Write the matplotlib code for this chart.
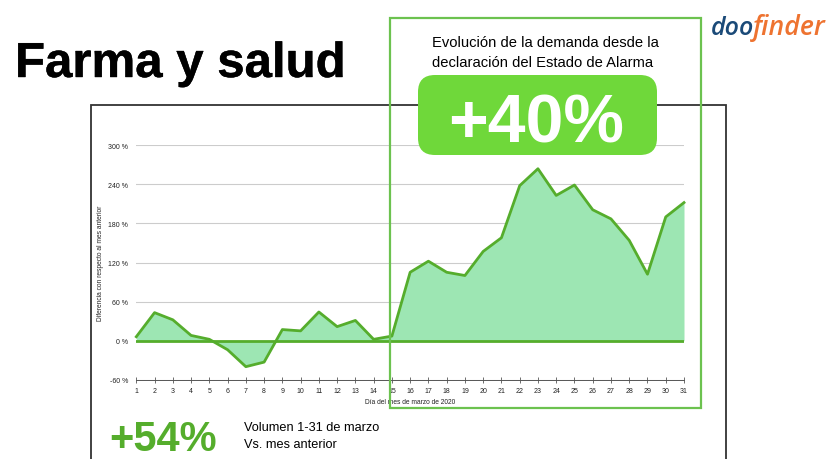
#Farma y salud - demand change vs previous month, March 2020

import matplotlib
matplotlib.use("Agg")
import matplotlib.pyplot as plt
import matplotlib.patheffects as pe
from matplotlib.patches import Rectangle, FancyBboxPatch

#
# Data
#

days = list(range(1, 32))
diffPercent = [6, 43, 32, 8, 2, -14, -40, -33, 17, 15, 44, 21.5, 31, 2, 7,
               105, 122, 105, 100, 137, 158, 238, 264, 223, 239, 201, 187, 154, 102, 190, 212]
yTicks = [-60, 0, 60, 120, 180, 240, 300]
yTickLabels = ["-60 %", "0 %", "60 %", "120 %", "180 %", "240 %", "300 %"]

#
# Style
#

W, H = 840., 460.
lineGreen = "#55ad2c"
fillGreen = "#9de6b3"
boxGreen = "#6cc24f"
badgeGreen = "#6fd83a"
plt.rcParams["font.family"] = ["Liberation Sans", "DejaVu Sans"]

fig = plt.figure(figsize=(8.4, 4.6), dpi=100)

#
# Page overlay in pixel coordinates, frame sits behind the chart
#

back = fig.add_axes([0, 0, 1, 1], zorder=0)
back.set_xlim(0, W)
back.set_ylim(H, 0)
back.axis("off")
back.plot([91, 91, 726, 726], [H, 106, 106, H], color="#333333", lw=1.3, solid_joinstyle="miter")

#
# Chart
#

ax = fig.add_axes([136.3/W, 1-380.7/H, (684-136.3)/W, (380.7-146.3)/H], zorder=1)
ax.patch.set_alpha(0)
ax.set_xlim(1, 31)
ax.set_ylim(-60, 300)
ax.fill_between(days, diffPercent, 0, color=fillGreen, lw=0, zorder=2)
ax.plot(days, diffPercent, color=lineGreen, lw=2, zorder=3, clip_on=False)
ax.axhline(0, color=lineGreen, lw=2, zorder=3)
for s in ["top", "left", "right"]:
  ax.spines[s].set_visible(False)
ax.spines["bottom"].set_color("#555555")
ax.spines["bottom"].set_linewidth(0.7)
ax.set_yticks(yTicks, yTickLabels, fontsize=5, color="#222222")
ax.set_xticks(days, [str(d) for d in days], fontsize=5, color="#222222")
ax.tick_params(axis="y", length=0, pad=6)
ax.tick_params(axis="x", direction="inout", length=4, width=0.6, color="#555555", pad=3)
ax.grid(axis="y", color="#cccccc", lw=0.8, zorder=1)
ax.set_axisbelow(True)
ax.set_xlabel("Día del mes de marzo de 2020", fontsize=4.8, color="#222222")
ax.set_ylabel("Diferencia con respecto al mes anterior", fontsize=4.8, color="#222222")
ax.xaxis.set_label_coords(0.5, -0.078)
ax.yaxis.set_label_coords(-0.059, 0.5)

#
# Annotations on top of the chart
#

top = fig.add_axes([0, 0, 1, 1], zorder=2)
top.set_xlim(0, W)
top.set_ylim(H, 0)
top.axis("off")
top.add_patch(Rectangle((390, 19), 311, 390, fill=False, ec=boxGreen, lw=1.6))
top.add_patch(FancyBboxPatch((418, 76), 239, 80, boxstyle="round,pad=0,rounding_size=17",
                             fc=badgeGreen, ec="none"))

top.text(15, 78, "Farma y salud", fontsize=35.4, fontweight="bold", color="black", va="baseline",
         path_effects=[pe.withStroke(linewidth=0.3, foreground="black")])
top.text(432, 47, "Evolución de la demanda desde la", fontsize=10.6, color="black", va="baseline")
top.text(432, 67, "declaración del Estado de Alarma", fontsize=10.6, color="black", va="baseline")
top.text(536, 143, "+40%", fontsize=49, fontweight="bold", color="white", ha="center", va="baseline")

top.text(109, 451, "+54%", fontsize=30, fontweight="bold", color=lineGreen, va="baseline")
top.text(244, 431, "Volumen 1-31 de marzo", fontsize=9.2, color="black", va="baseline")
top.text(244, 448, "Vs. mes anterior", fontsize=9.2, color="black", va="baseline")

#Logo
top.text(711, 35, "doo", fontsize=18, fontstyle="italic", fontweight="semibold", family="Open Sans",
         color="#1b4a78", va="baseline")
top.text(753, 35, "finder", fontsize=19.2, fontstyle="italic", fontweight="semibold", family="Open Sans",
         color="#ee7330", va="baseline")

fig.savefig("out.png", dpi=100)
